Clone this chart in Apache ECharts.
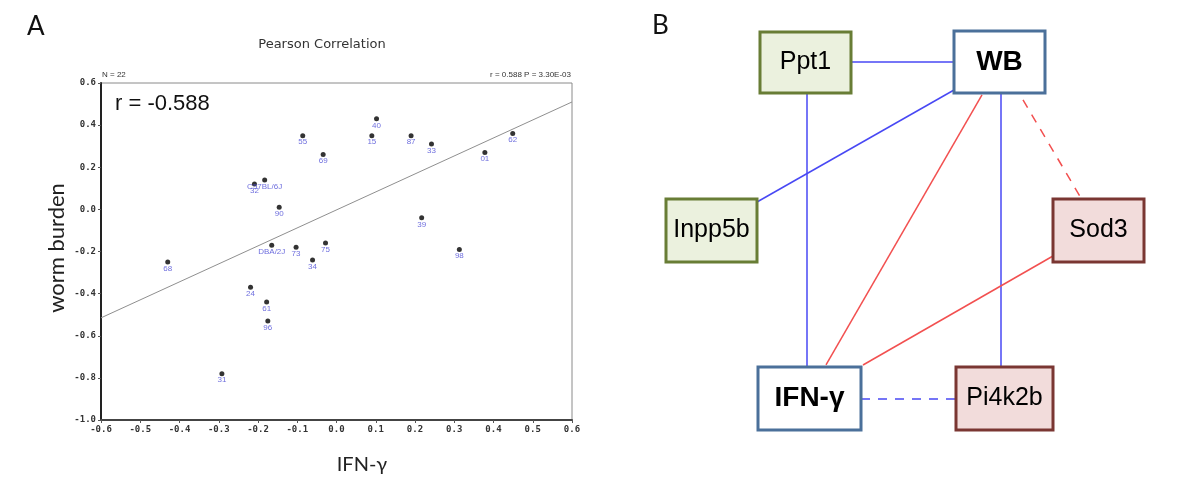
<!DOCTYPE html>
<html>
<head>
<meta charset="utf-8">
<script src="https://cdn.jsdelivr.net/npm/echarts@6/dist/echarts.min.js"></script>
<style>
html,body{margin:0;padding:0;background:#fff;}
#chart{width:1200px;height:493px;}
</style>
</head>
<body>
<div id="chart"></div>
<script>
// ---------- Panel A data ----------
const strainLabels = ['55','69','C57BL/6J','32','40','15','87','33','01','62','90','DBA/2J','73','75','34','68','24','61','96','31','39','98'];
const ifnValues    = [-0.086,-0.034,-0.183,-0.209,0.102,0.090,0.190,0.242,0.378,0.449,-0.146,-0.165,-0.103,-0.028,-0.061,-0.430,-0.219,-0.178,-0.175,-0.292,0.217,0.313];
const wormValues   = [0.35,0.26,0.14,0.12,0.43,0.35,0.35,0.31,0.27,0.36,0.01,-0.17,-0.18,-0.16,-0.24,-0.25,-0.37,-0.44,-0.53,-0.78,-0.04,-0.19];
const fitLineX = [-0.6, 0.6];
const fitLineY = [-0.515, 0.51];
const xTicks = {min:-0.6, max:0.6, step:0.1};
const yTicks = {min:-1.0, max:0.6, step:0.2};

// ---------- Panel B data (layout units 0-100) ----------
const nodeNames = ['Ppt1','WB','Inpp5b','Sod3','IFN-γ','Pi4k2b'];
const nodeX     = [31.1, 69.9, 12.3, 89.7, 31.9, 70.9];
const nodeY     = [9.88, 9.77, 48.95, 48.95, 88.02, 88.02];
const nodeW     = [18.2, 18.2, 18.2, 18.2, 20.6, 19.4];
const nodeH     = [14.2, 14.4, 14.65, 14.65, 14.65, 14.65];
const nodeKind  = ['green','blue','green','pink','blue','pink'];

const edgeFrom  = ['Ppt1','Ppt1','WB','WB','WB','WB','Sod3','IFN-γ'];
const edgeTo    = ['WB','IFN-γ','Inpp5b','IFN-γ','Pi4k2b','Sod3','IFN-γ','Pi4k2b'];
const edgeStart = [[40.2,9.77],[31.4,16.98],[60.8,16.28],[66.4,17.44],[70.2,16.98],[74.6,18.6],[80.6,54.88],[42.2,88.14]];
const edgeEnd   = [[60.8,9.77],[31.4,80.7],[21.4,42.33],[35.2,80.23],[70.2,80.7],[86.2,41.4],[42.6,80.23],[61.2,88.14]];
const edgeSign  = ['pos','pos','pos','neg','pos','neg','neg','pos'];
const edgeDash  = [false,false,false,false,false,true,false,true];

// ---------- styles ----------
const nodeStyles = {
  green:{fill:'#ebf1de', stroke:'#687d35', bold:false},
  blue: {fill:'#ffffff', stroke:'#4b709a', bold:true},
  pink: {fill:'#f2dcdb', stroke:'#7a3632', bold:false}
};
const edgeColors = {pos:'#4848f4', neg:'#f25050'};

const chart = echarts.init(document.getElementById('chart'), null, {renderer:'canvas'});

const scatterData = strainLabels.map((s,i)=>({value:[ifnValues[i], wormValues[i]], name:s}));
const fitData = fitLineX.map((x,i)=>[x, fitLineY[i]]);
const nodeData = nodeNames.map((n,i)=>({name:n, value:[nodeX[i], nodeY[i], nodeW[i], nodeH[i]]}));
const edgeData = edgeFrom.map((f,i)=>({
  name: f + '-' + edgeTo[i],
  coords:[edgeStart[i], edgeEnd[i]],
  lineStyle:{color:edgeColors[edgeSign[i]], width:1.5, type: edgeDash[i] ? [9,8] : 'solid', opacity:1}
}));

function fmt(v){ if (Math.abs(v) < 1e-9) v = 0; return v.toFixed(1); }

const option = {
  animation:false,
  backgroundColor:'#ffffff',
  grid:[
    {left:101, top:83, width:471, height:337, show:true, borderColor:'#8a8a8a', borderWidth:1, backgroundColor:'transparent'},
    {left:650, top:20, width:500, height:430, show:false}
  ],
  xAxis:[
    {gridIndex:0, type:'value', min:xTicks.min, max:xTicks.max, interval:xTicks.step,
     axisLine:{onZero:false, lineStyle:{color:'#444', width:2}},
     axisTick:{show:true, length:3, lineStyle:{color:'#555'}},
     axisLabel:{formatter:fmt, fontFamily:'DejaVu Sans Mono', fontSize:9, fontWeight:'bold', color:'#333', margin:5},
     splitLine:{show:false}},
    {gridIndex:1, type:'value', min:0, max:100, show:false}
  ],
  yAxis:[
    {gridIndex:0, type:'value', min:yTicks.min, max:yTicks.max, interval:yTicks.step,
     axisLine:{onZero:false, lineStyle:{color:'#222', width:2}},
     axisTick:{show:true, length:3, lineStyle:{color:'#555'}},
     axisLabel:{formatter:fmt, fontFamily:'DejaVu Sans Mono', fontSize:9, fontWeight:'bold', color:'#333', margin:5},
     splitLine:{show:false}},
    {gridIndex:1, type:'value', min:0, max:100, inverse:true, show:false}
  ],
  graphic:[
    {type:'text', left:27, top:14, style:{text:'A', font:'26px Lato', fill:'#111'}},
    {type:'text', left:652, top:13, style:{text:'B', font:'26px Lato', fill:'#111'}},
    {type:'text', x:322, y:45, style:{text:'Pearson Correlation', font:'13px "DejaVu Sans"', fill:'#333', align:'center', verticalAlign:'middle'}},
    {type:'text', x:102, y:75, style:{text:'N = 22', font:'8px "Liberation Sans"', fill:'#333', align:'left', verticalAlign:'middle'}},
    {type:'text', x:571, y:75, style:{text:'r = 0.588 P = 3.30E-03', font:'8px "Liberation Sans"', fill:'#333', align:'right', verticalAlign:'middle'}},
    {type:'text', x:115, y:104, style:{text:'r = -0.588', font:'22px "Liberation Sans"', fill:'#111', align:'left', verticalAlign:'middle'}},
    {type:'text', x:362, y:465, style:{text:'IFN-γ', font:'20px Lato', fill:'#222', align:'center', verticalAlign:'middle'}},
    {type:'text', x:57, y:248, rotation:Math.PI/2, style:{text:'worm burden', font:'22px Lato', fill:'#222', align:'center', verticalAlign:'middle'}}
  ],
  series:[
    {type:'line', xAxisIndex:0, yAxisIndex:0, data:fitData, showSymbol:false, symbol:'none',
     lineStyle:{color:'#8f8f8f', width:1}, z:2, silent:true},
    {type:'scatter', xAxisIndex:0, yAxisIndex:0, data:scatterData, symbol:'circle', symbolSize:5,
     itemStyle:{color:'#000'}, z:3,
     label:{show:true, position:'bottom', distance:0, formatter:'{b}', fontFamily:'Liberation Sans', fontSize:8, color:'#4a4ad6'}},
    {type:'lines', coordinateSystem:'cartesian2d', xAxisIndex:1, yAxisIndex:1, data:edgeData, z:2, silent:true,
     lineStyle:{opacity:1, width:1.5}},
    {type:'custom', coordinateSystem:'cartesian2d', xAxisIndex:1, yAxisIndex:1, data:nodeData, z:5,
     renderItem:function(params, api){
       const c = api.coord([api.value(0), api.value(1)]);
       const s = api.size([api.value(2), api.value(3)], [api.value(0), api.value(1)]);
       const i = params.dataIndex;
       const st = nodeStyles[nodeKind[i]];
       return {type:'group', children:[
         {type:'rect', shape:{x:c[0]-s[0]/2, y:c[1]-s[1]/2, width:s[0], height:s[1]},
          style:{fill:st.fill, stroke:st.stroke, lineWidth:3}},
         {type:'text', style:{text:nodeNames[i], x:c[0], y:c[1], align:'center', verticalAlign:'middle',
          font:(st.bold ? 'bold 28px' : '25px') + ' "Liberation Sans"', fill:'#000'}}
       ]};
     }}
  ]
};
chart.setOption(option);
</script>
</body>
</html>
